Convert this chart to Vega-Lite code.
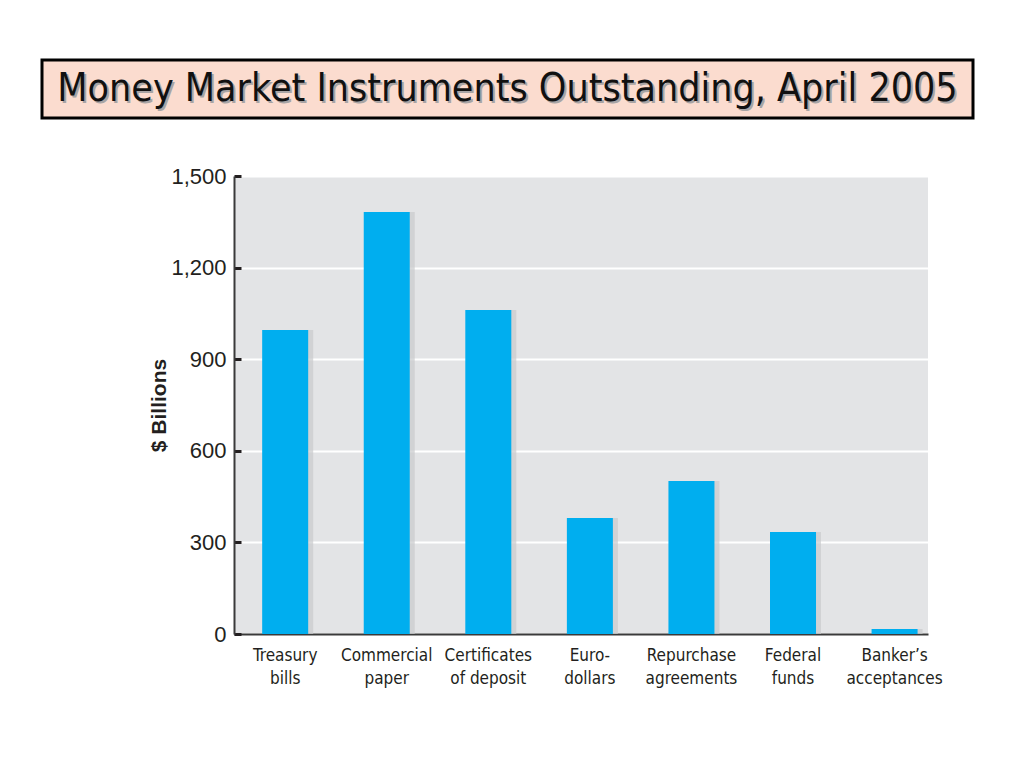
{
  "$schema": "https://vega.github.io/schema/vega-lite/v6.json",
  "background": "white",
  "padding": {"left": 40, "top": 58, "right": 0, "bottom": 12},
  "spacing": 45,
  "config": {"view": {"stroke": null}},
  "vconcat": [
    {
      "width": 694,
      "height": 58,
      "data": {"values": [{"t": "Money Market Instruments Outstanding, April 2005", "x0": 0, "x1": 1, "xm": 0.5}]},
      "layer": [
        {
          "mark": {"type": "rect", "fill": "#fbdccf", "stroke": "#000000", "strokeWidth": 3},
          "encoding": {
            "x": {"field": "x0", "type": "quantitative", "scale": {"domain": [0, 1], "range": [-192, 739]}, "axis": null},
            "x2": {"field": "x1"}
          }
        },
        {
          "mark": {"type": "text", "font": "DejaVu Sans Condensed, Liberation Sans Narrow, DejaVu Sans", "fontSize": 39, "color": "#a8a4a4", "dx": 2, "dy": 2},
          "encoding": {
            "x": {"field": "xm", "type": "quantitative", "scale": {"domain": [0, 1], "range": [-192, 739]}, "axis": null},
            "text": {"field": "t"}
          }
        },
        {
          "mark": {"type": "text", "font": "DejaVu Sans Condensed, Liberation Sans Narrow, DejaVu Sans", "fontSize": 39, "color": "#111111"},
          "encoding": {
            "x": {"field": "xm", "type": "quantitative", "scale": {"domain": [0, 1], "range": [-192, 739]}, "axis": null},
            "text": {"field": "t"}
          }
        }
      ]
    },
    {
      "width": 694,
      "height": 458,
      "view": {"fill": "#e3e4e6", "stroke": null},
      "data": {
        "values": [
          {"instrument": "Treasury bills", "value": 996},
          {"instrument": "Commercial paper", "value": 1382},
          {"instrument": "Certificates of deposit", "value": 1061},
          {"instrument": "Eurodollars", "value": 380},
          {"instrument": "Repurchase agreements", "value": 501},
          {"instrument": "Federal funds", "value": 334},
          {"instrument": "Banker’s acceptances", "value": 16}
        ]
      },
      "encoding": {
        "x": {
          "field": "instrument",
          "type": "nominal",
          "sort": null,
          "scale": {"paddingInner": 0.547, "paddingOuter": 0.19, "align": 0.73},
          "axis": {
            "title": null,
            "labelAngle": 0,
            "labelFont": "DejaVu Sans Condensed, Liberation Sans Narrow, sans-serif",
            "labelFontSize": 17,
            "labelColor": "#231f20",
            "labelPadding": 13,
            "labelLineHeight": 23,
            "labelBaseline": "top",
            "ticks": false,
            "domainColor": "#3a3a3a",
            "domainWidth": 2,
            "labelExpr": "datum.label == 'Eurodollars' ? ['Euro-', 'dollars'] : datum.label == 'Certificates of deposit' ? ['Certificates', 'of deposit'] : split(datum.label, ' ')"
          }
        },
        "y": {
          "field": "value",
          "type": "quantitative",
          "scale": {"domain": [0, 1500]},
          "axis": {
            "values": [0, 300, 600, 900, 1200, 1500],
            "format": ",.0f",
            "title": "$ Billions",
            "titleFont": "Liberation Sans, Arial, sans-serif",
            "titleFontWeight": "bold",
            "titleFontSize": 21,
            "titleColor": "#231f20",
            "titlePadding": 1,
            "labelFont": "Liberation Sans, Arial, sans-serif",
            "labelFontSize": 22,
            "labelColor": "#231f20",
            "labelPadding": 15,
            "tickColor": "#231f20",
            "tickSize": -7,
            "tickWidth": 3,
            "domainColor": "#3a3a3a",
            "domainWidth": 2,
            "gridColor": "#ffffff",
            "gridWidth": 2
          }
        }
      },
      "layer": [
        {
          "mark": {"type": "bar", "color": "#c9cacc", "opacity": 0.7, "xOffset": 5}
        },
        {
          "mark": {"type": "bar", "color": "#00aeef"}
        }
      ]
    }
  ]
}
